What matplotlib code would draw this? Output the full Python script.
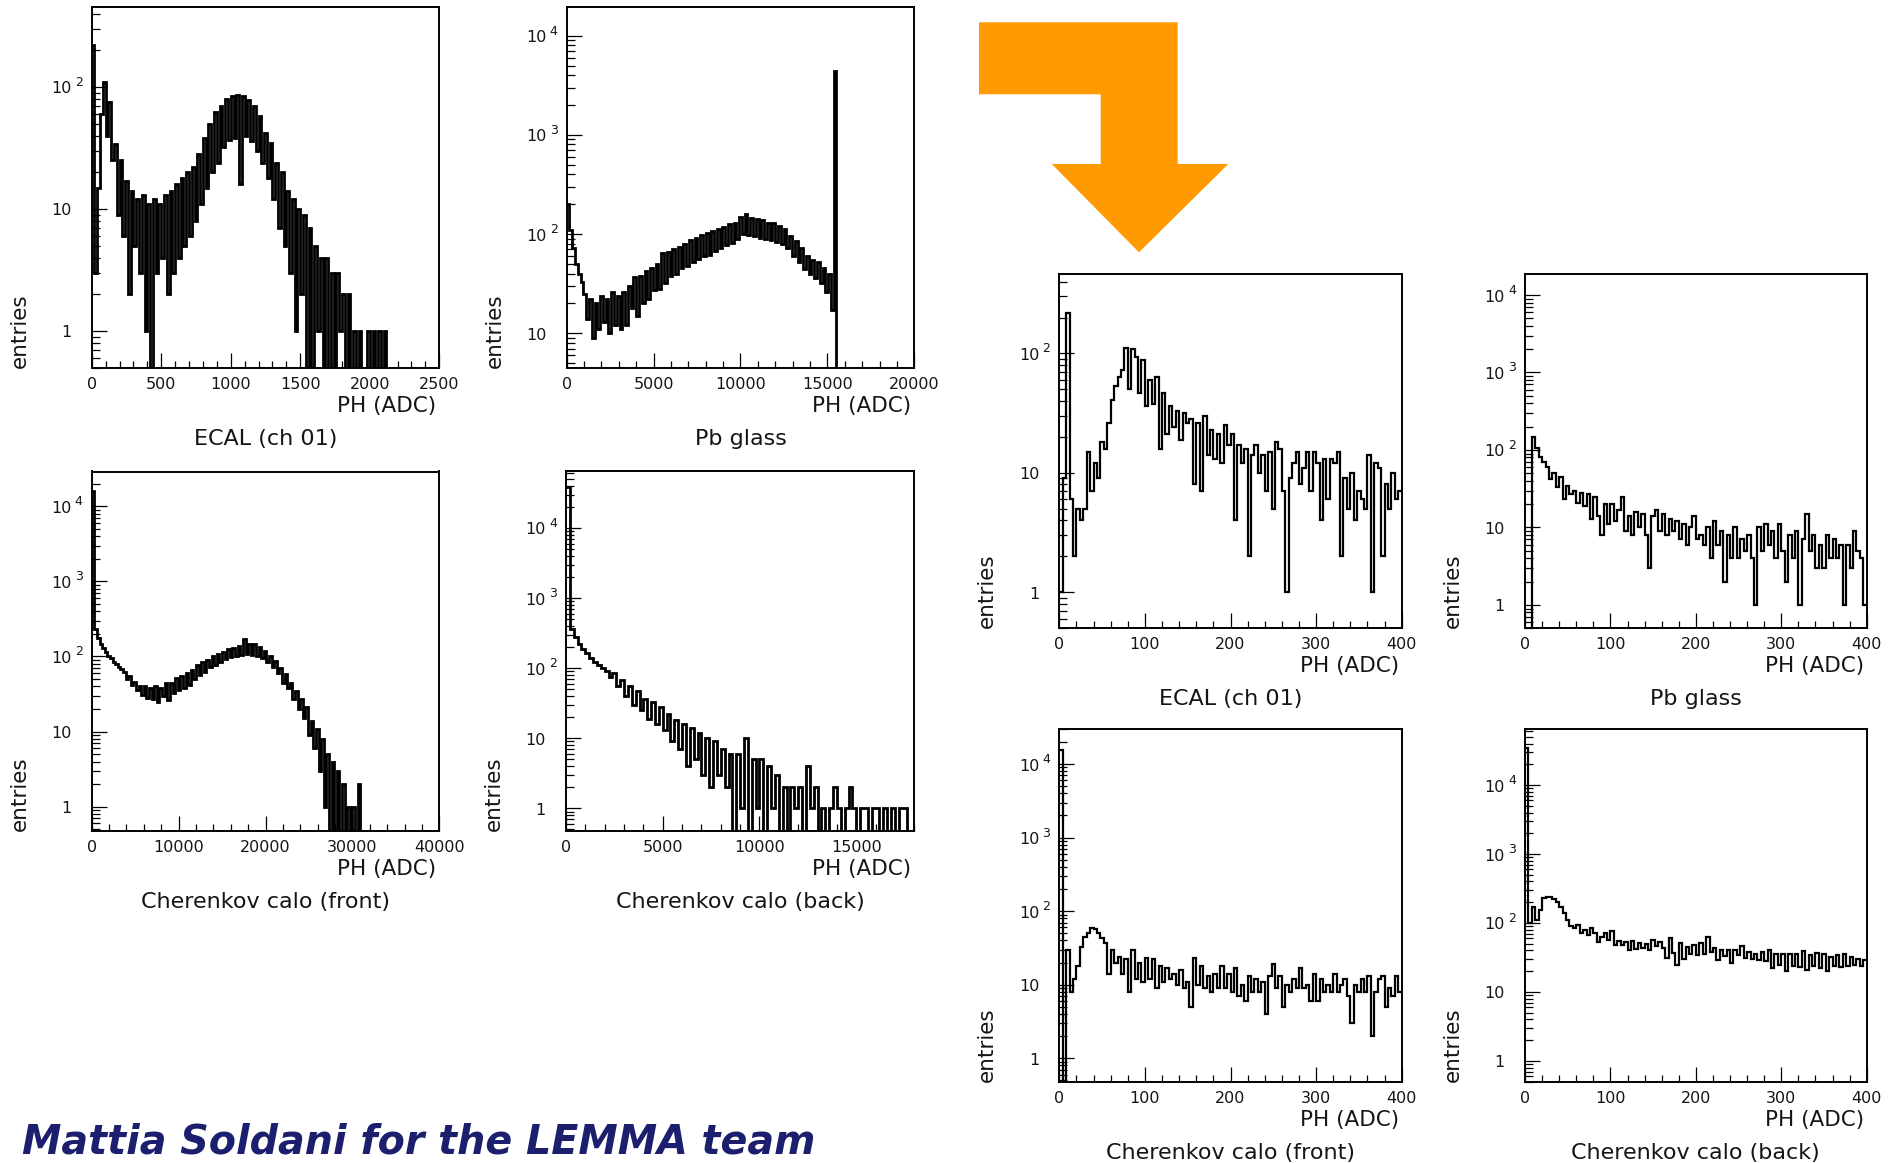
import numpy as np
import matplotlib
matplotlib.use("Agg")
import matplotlib.pyplot as plt
from matplotlib.patches import Polygon
from matplotlib.ticker import LogLocator, MultipleLocator, NullFormatter

# ---- bin contents (entries per bin) ----
# full-range spectra
ecal_wide_bin = 20
ecal_wide = [220, 3, 15, 60, 110, 40, 75, 25, 34, 9,
             25, 6, 17, 2, 14, 5, 12, 3, 13, 1,
             11, 0, 12, 3, 11, 4, 13, 2, 14, 3,
             16, 4, 18, 5, 20, 6, 22, 8, 28, 11,
             38, 15, 50, 20, 62, 24, 70, 32, 80, 37,
             84, 38, 86, 16, 84, 40, 78, 36, 70, 30,
             58, 24, 42, 18, 35, 12, 24, 7, 20, 5,
             14, 3, 12, 1, 10, 2, 9, 0, 7, 0,
             5, 1, 4, 0, 4, 0, 3, 0, 3, 1,
             2, 0, 2, 0, 1, 0, 1, 0, 0, 1,
             0, 1, 0, 1, 0, 1, 0]

pbglass_wide_bin = 160
pbglass_wide = [200, 110, 72, 50, 40, 33, 25, 14, 22, 9,
                20, 11, 24, 13, 22, 10, 26, 12, 24, 11,
                26, 12, 30, 18, 37, 15, 38, 20, 42, 22,
                45, 27, 50, 28, 65, 32, 66, 38, 70, 40,
                74, 45, 80, 48, 88, 52, 92, 56, 98, 60,
                102, 62, 108, 68, 112, 72, 118, 78, 125, 82,
                130, 90, 150, 100, 160, 98, 145, 96, 142, 92,
                138, 90, 130, 88, 128, 84, 120, 80, 112, 72,
                95, 60, 85, 52, 72, 44, 60, 40, 55, 36,
                52, 32, 46, 26, 40, 17, 4440, 0]

cher_front_wide_bin = 300
cher_front_wide = [15800, 230, 175, 148, 130, 115, 100, 96, 84, 80,
                   72, 68, 62, 50, 55, 42, 46, 36, 40, 31,
                   40, 28, 38, 27, 40, 25, 38, 30, 44, 26,
                   45, 33, 52, 36, 55, 38, 60, 42, 66, 50,
                   76, 56, 84, 62, 90, 72, 100, 78, 108, 85,
                   115, 92, 125, 98, 130, 102, 140, 105, 170, 108,
                   145, 104, 148, 100, 135, 95, 120, 85, 100, 72,
                   88, 60, 70, 44, 58, 38, 45, 27, 35, 20,
                   27, 15, 21, 9, 14, 6, 11, 3, 8, 1,
                   5, 0, 4, 0, 3, 0, 2, 0, 1, 0,
                   1, 0, 2, 0]

cher_back_wide_bin = 200
cher_back_wide = [38000, 360, 280, 224, 190, 162, 140, 123, 112, 100,
                  90, 75, 84, 56, 67, 40, 55, 30, 48, 25,
                  36, 19, 33, 16, 28, 13, 22, 9, 18, 7,
                  16, 4, 14, 5, 12, 3, 10, 2, 9, 3,
                  7, 2, 6, 0, 6, 1, 10, 0, 5, 1,
                  5, 0, 4, 1, 3, 0, 2, 0, 2, 1,
                  2, 0, 4, 1, 2, 0, 1, 0, 1, 2,
                  1, 0, 1, 2, 1, 0, 1, 1, 0, 1,
                  1, 0, 1, 0, 1, 0, 1, 1, 0]

# zoom on the first 400 ADC counts
zoom_bin = 4
ecal_zoom = [1, 9, 218, 6, 2, 5, 4, 5, 15, 7,
             12, 9, 18, 16, 26, 41, 53, 64, 73, 111,
             50, 108, 94, 47, 88, 36, 60, 38, 64, 16,
             47, 21, 36, 24, 33, 19, 32, 26, 28, 8,
             26, 7, 30, 14, 23, 13, 21, 12, 25, 17,
             21, 4, 17, 12, 16, 2, 14, 17, 10, 14,
             7, 15, 5, 18, 16, 7, 1, 9, 12, 15,
             8, 11, 15, 7, 15, 12, 4, 13, 6, 13,
             12, 15, 2, 9, 5, 10, 4, 7, 6, 5,
             14, 1, 12, 11, 2, 8, 5, 10, 6, 7]

pbglass_zoom = [0, 0, 149, 105, 82, 71, 61, 42, 50, 33,
                45, 23, 34, 27, 30, 21, 28, 19, 27, 13,
                25, 14, 8, 20, 11, 20, 12, 17, 25, 9,
                14, 8, 16, 10, 15, 8, 3, 14, 17, 9,
                15, 8, 13, 9, 12, 7, 11, 6, 10, 14,
                7, 8, 6, 10, 4, 12, 6, 9, 2, 8,
                4, 10, 4, 7, 5, 8, 4, 1, 10, 5,
                11, 6, 9, 4, 11, 5, 2, 8, 4, 9,
                1, 7, 15, 5, 8, 3, 6, 3, 8, 4,
                7, 4, 6, 1, 6, 3, 9, 5, 4, 1]

cher_front_zoom = [15500, 0, 30, 8, 12, 18, 33, 45, 50, 59,
                   57, 50, 43, 37, 14, 30, 20, 24, 14, 22,
                   8, 30, 12, 20, 11, 23, 12, 22, 9, 18,
                   11, 17, 12, 14, 10, 16, 9, 11, 5, 23,
                   10, 18, 9, 13, 8, 14, 9, 18, 9, 14,
                   8, 17, 7, 10, 6, 13, 8, 12, 8, 11,
                   4, 13, 19, 9, 13, 5, 10, 8, 12, 9,
                   17, 9, 10, 6, 14, 6, 12, 8, 10, 8,
                   14, 8, 10, 12, 7, 3, 10, 8, 12, 8,
                   13, 2, 8, 12, 13, 5, 9, 7, 13, 8]

cher_back_zoom = [34000, 99, 172, 110, 154, 230, 241, 240, 225, 204,
                  172, 138, 110, 89, 84, 94, 72, 80, 67, 84,
                  71, 53, 63, 71, 57, 76, 48, 55, 48, 53,
                  41, 54, 42, 51, 44, 50, 41, 57, 47, 53,
                  43, 31, 60, 37, 25, 51, 30, 45, 36, 48,
                  34, 51, 36, 63, 38, 43, 29, 40, 33, 41,
                  26, 41, 34, 47, 31, 38, 30, 36, 29, 38,
                  28, 40, 22, 36, 25, 35, 20, 36, 24, 36,
                  23, 39, 21, 34, 24, 37, 22, 35, 20, 32,
                  24, 34, 23, 36, 24, 32, 25, 30, 24, 29]

titles = ["ECAL (ch 01)", "Pb glass", "Cherenkov calo (front)", "Cherenkov calo (back)"]
x_label = "PH (ADC)"
y_label = "entries"
footer = "Mattia Soldani for the LEMMA team"

W, H = 1890, 1163
fig = plt.figure(figsize=(W / 100, H / 100), dpi=100)
INK = "#151515"


def px(v):
    # pixels -> points at 100 dpi
    return v * 0.72


def panel(box, counts, width, xlim, ylim, xmajor, xminor, title, lw):
    l, t, r, b = box
    ax = fig.add_axes([l / W, 1 - b / H, (r - l) / W, (b - t) / H])
    edges = np.arange(len(counts) + 1) * width
    vals = np.clip(np.asarray(counts, dtype=float), 1e-3, None)
    ax.stairs(vals, edges, baseline=None, color="black", lw=lw)
    ax.set_yscale("log")
    ax.set_xlim(*xlim)
    ax.set_ylim(*ylim)

    for s in ax.spines.values():
        s.set_linewidth(1.4)
        s.set_color("black")

    ax.xaxis.set_major_locator(MultipleLocator(xmajor))
    ax.xaxis.set_minor_locator(MultipleLocator(xminor))
    ax.yaxis.set_major_locator(LogLocator(base=10, numticks=20))
    ax.yaxis.set_minor_locator(LogLocator(base=10, subs=np.arange(2, 10), numticks=20))
    ax.yaxis.set_major_formatter(NullFormatter())
    ax.yaxis.set_minor_formatter(NullFormatter())
    ax.xaxis.set_major_formatter(lambda v, p: f"{int(round(v))}")

    ax.tick_params(which="both", direction="in", top=False, right=False,
                   width=0.9, color="black")
    ax.tick_params(axis="x", which="major", length=px(15), pad=px(9),
                   labelsize=11.5, labelcolor=INK)
    ax.tick_params(axis="x", which="minor", length=px(7))
    ax.tick_params(axis="y", which="major", length=px(15))
    ax.tick_params(axis="y", which="minor", length=px(8))

    # PAW-like decade labels: 1, 10, 10^2 ...
    for e in range(0, 6):
        v = 10.0 ** e
        if not (ylim[0] <= v <= ylim[1]):
            continue
        base = "1" if e == 0 else "10"
        ax.annotate(base, xy=(0, v), xycoords=("axes fraction", "data"),
                    xytext=(-px(20), -px(2)), textcoords="offset points",
                    ha="right", va="center", fontsize=11.5, color=INK)
        if e >= 2:
            ax.annotate(str(e), xy=(0, v), xycoords=("axes fraction", "data"),
                        xytext=(-px(17), px(1)), textcoords="offset points",
                        ha="left", va="baseline", fontsize=9, color=INK)

    ax.annotate(x_label, xy=(1, 0), xycoords="axes fraction",
                xytext=(-px(3), -px(38)), textcoords="offset points",
                ha="right", va="center", fontsize=15.5, color=INK)
    ax.annotate(title, xy=(0.5, 0), xycoords="axes fraction",
                xytext=(0, -px(71)), textcoords="offset points",
                ha="center", va="center", fontsize=16, color=INK)
    ax.annotate(y_label, xy=(0, 0), xycoords="axes fraction",
                xytext=(-px(72), 0), textcoords="offset points",
                rotation=90, ha="center", va="bottom", fontsize=15.5, color=INK)
    return ax


# left block: full range
panel((91.7, 7.3, 439.3, 367.7), ecal_wide, ecal_wide_bin,
      (0, 2500), (0.5, 450), 500, 100, titles[0], 2.0)
panel((566.7, 7.3, 914.3, 367.7), pbglass_wide, pbglass_wide_bin,
      (0, 20000), (4.5, 1.93e4), 5000, 1000, titles[1], 2.0)
panel((91.7, 471.5, 439.3, 830.7), cher_front_wide, cher_front_wide_bin,
      (0, 40000), (0.48, 2.9e4), 10000, 2000, titles[2], 2.0)
panel((566.0, 471.0, 914.3, 830.7), cher_back_wide, cher_back_wide_bin,
      (0, 18000), (0.48, 6.5e4), 5000, 1000, titles[3], 2.0)

# right block: zoom 0-400
panel((1059.3, 274.3, 1401.7, 628.3), ecal_zoom, zoom_bin,
      (0, 400), (0.5, 460), 100, 20, titles[0], 1.6)
panel((1525.0, 274.3, 1866.7, 628.3), pbglass_zoom, zoom_bin,
      (0, 400), (0.5, 1.85e4), 100, 20, titles[1], 1.6)
panel((1059.3, 729.0, 1401.7, 1082.3), cher_front_zoom, zoom_bin,
      (0, 400), (0.47, 3.0e4), 100, 20, titles[2], 1.6)
panel((1525.0, 729.0, 1866.7, 1082.3), cher_back_zoom, zoom_bin,
      (0, 400), (0.49, 6.5e4), 100, 20, titles[3], 1.6)

# orange bent arrow
deco = fig.add_axes([0, 0, 1, 1], zorder=-1)
deco.set_xlim(0, W)
deco.set_ylim(H, 0)
deco.axis("off")
arrow = [(979, 22.3), (1177.7, 22.3), (1177.7, 164), (1228.3, 164), (1139, 252.3),
         (1051.7, 164), (1100.7, 164), (1100.7, 94.3), (979, 94.3)]
deco.add_patch(Polygon(arrow, closed=True, facecolor="#ff9b00", edgecolor="none"))

fig.text(22 / W, 10 / H, footer, fontsize=28.5, fontweight="bold", fontstyle="italic",
         color="#1b1f6e", ha="left", va="baseline")

fig.savefig("out.png", dpi=100)
